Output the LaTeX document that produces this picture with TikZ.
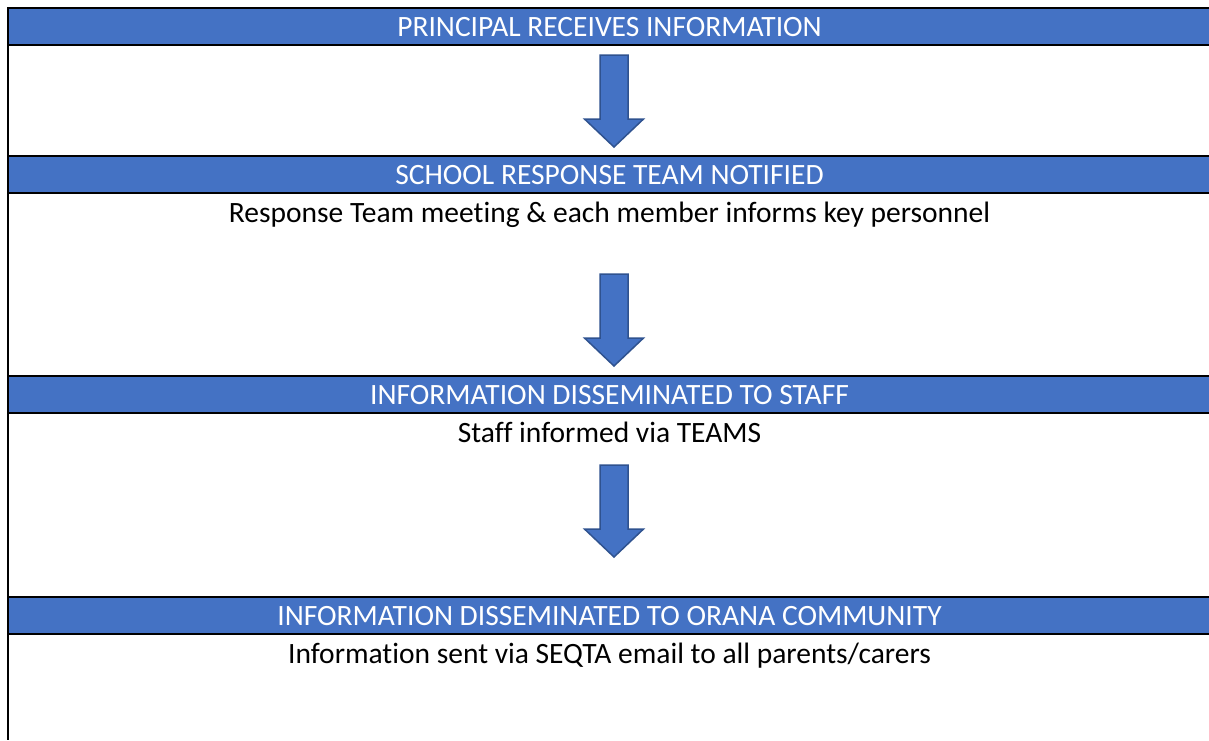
\documentclass[tikz,border=0pt]{standalone}
\usepackage{fontspec}
\setmainfont[Ligatures=NoCommon]{Carlito}
\definecolor{bandblue}{HTML}{4472C4}
\definecolor{arrowedge}{HTML}{2F528F}
\begin{document}
\begin{tikzpicture}[x=1pt,y=-1pt,
  band/.style={fill=bandblue,draw=none},
  rule/.style={line width=2.2pt,black},
  headtext/.style={anchor=base,text=white,font=\fontsize{29.5}{34}\selectfont,inner sep=0pt},
  bodytext/.style={anchor=base,text=black,font=\fontsize{29.5}{34}\selectfont,inner sep=0pt},
  downarrow/.pic={
    \draw[fill=bandblue,draw=arrowedge,line width=1.5pt,line join=miter]
      (-14,0) -- (14,0) -- (14,64) -- (29.5,64) -- (0,92) -- (-29.5,64) -- (-14,64) -- cycle;
  }]
\useasboundingbox (0,0) rectangle (1209,740);
\fill[white] (0,0) rectangle (1209,740);

% blue header bands
\fill[band] (8,8) rectangle (1209,45);
\fill[band] (8,156) rectangle (1209,193);
\fill[band] (8,376) rectangle (1209,413);
\fill[band] (8,597) rectangle (1209,634);

% table rules
\foreach \yy in {8,45,156,193,376,413,597,634}
  \draw[rule] (7,\yy) -- (1209,\yy);
\draw[rule] (8,7) -- (8,740);

% headings
\node[headtext] (h1) at (609.5,36) {PRINCIPAL RECEIVES INFORMATION};
\node[headtext] (h2) at (609.5,184) {SCHOOL RESPONSE TEAM NOTIFIED};
\node[headtext] (h3) at (609.5,404) {INFORMATION DISSEMINATED TO STAFF};
\node[headtext] (h4) at (609.5,625) {INFORMATION DISSEMINATED TO ORANA COMMUNITY};

% row texts
\node[bodytext] (t2) at (609.5,222) {Response Team meeting \& each member informs key personnel};
\node[bodytext] (t3) at (609.5,442) {Staff informed via TEAMS};
\node[bodytext] (t4) at (609.5,663) {Information sent via SEQTA email to all parents/carers};

% block arrows between stages
\pic at (614,55) {downarrow};
\pic at (614,274) {downarrow};
\pic at (614,465) {downarrow};
\end{tikzpicture}
\end{document}
